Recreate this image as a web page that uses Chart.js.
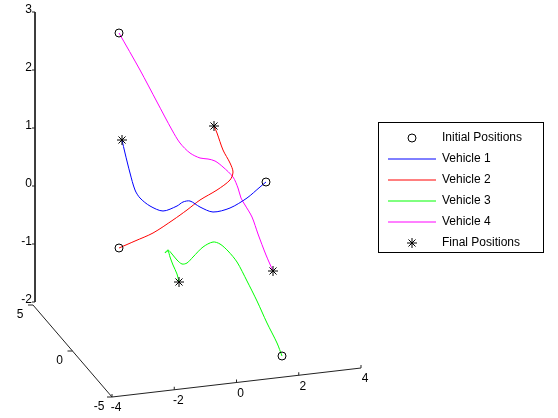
<!DOCTYPE html>
<html>
<head>
<meta charset="utf-8">
<script src="https://cdn.jsdelivr.net/npm/chart.js@4"></script>
<style>
  body { margin: 0; background: #fff; }
  #wrap { width: 558px; height: 418px; position: relative; }
</style>
</head>
<body>
<div id="wrap"><canvas id="trajChart"></canvas></div>
<script>
// Trajectoires projetées (vue 3D aplatie, unités de la vue)
const vehicle1X = [266, 260, 247, 230, 213, 200, 190, 183, 177, 163, 150, 140, 135, 130, 125, 122];
const vehicle1Y = [182, 187, 198, 208, 212, 207, 201, 202, 206, 211, 206, 198, 190, 173, 153, 140];
const vehicle2X = [119, 135, 153, 173, 187, 200, 217, 230, 233, 230, 223, 217, 214];
const vehicle2Y = [248, 241, 233, 220, 210, 200, 190, 180, 172, 163, 150, 133, 126];
const vehicle3X = [282, 277, 267, 257, 247, 237, 228, 220, 213, 203, 193, 187, 182, 177, 172, 168, 165, 168, 170, 173, 177, 179];
const vehicle3Y = [356, 343, 323, 301, 281, 262, 251, 244, 242, 247, 257, 263, 264, 260, 254, 250, 253, 251, 257, 265, 274, 282];
const vehicle4X = [119, 140, 157, 172, 180, 190, 200, 208, 215, 223, 233, 238, 241, 245, 252, 258, 266, 273];
const vehicle4Y = [33, 70, 102, 130, 143, 153, 158, 159, 161, 167, 177, 188, 198, 205, 217, 234, 255, 271];

const initialX = [266, 119, 282, 119];
const initialY = [182, 248, 356, 33];
const finalX = [122, 214, 179, 273];
const finalY = [140, 126, 282, 271];

const seriesNames = ['Vehicle 1', 'Vehicle 2', 'Vehicle 3', 'Vehicle 4'];
const seriesColors = ['#0000ff', '#ff0000', '#00ff00', '#ff00ff'];

// Axes 3D : valeurs des graduations
const zTicks = [3, 2, 1, 0, -1, -2];
const yTicks = [5, 0, -5];
const xTicks = [-4, -2, 0, 2, 4];

// Projection des axes dans la vue
const zAxisX = 35, zOrigin = 186, zStep = 58;
const yAxisStart = { x: 33, y: 305 }, yAxisEnd = { x: 112, y: 397 };
const xAxisStart = { x: 112, y: 397 }, xAxisEnd = { x: 361, y: 368 };

function zPos(v) { return { x: zAxisX, y: zOrigin - zStep * v }; }
function yPos(v) {
  const t = (5 - v) / 10;
  return { x: yAxisStart.x + t * (yAxisEnd.x - yAxisStart.x), y: yAxisStart.y + t * (yAxisEnd.y - yAxisStart.y) };
}
function xPos(v) {
  const t = (v + 4) / 8;
  return { x: xAxisStart.x + t * (xAxisEnd.x - xAxisStart.x), y: xAxisStart.y + t * (xAxisEnd.y - xAxisStart.y) };
}

const toPoints = (xs, ys) => xs.map((x, i) => ({ x: x, y: ys[i] }));
const vehX = [vehicle1X, vehicle2X, vehicle3X, vehicle4X];
const vehY = [vehicle1Y, vehicle2Y, vehicle3Y, vehicle4Y];

const datasets = [];

// lignes des axes
const axisLine = (pts) => ({
  data: pts, showLine: true, borderColor: '#222', borderWidth: 1,
  pointRadius: 0, tension: 0, order: 20
});
datasets.push(axisLine([zPos(3), zPos(-2)]));
datasets.push(axisLine([yPos(5), yPos(-5)]));
datasets.push(axisLine([xPos(-4), xPos(4)]));

seriesNames.forEach((name, i) => {
  datasets.push({
    label: name,
    data: toPoints(vehX[i], vehY[i]),
    showLine: true,
    borderColor: seriesColors[i],
    borderWidth: 1,
    pointRadius: 0,
    tension: 0.3,
    order: 10
  });
});

datasets.push({
  label: 'Initial Positions',
  data: toPoints(initialX, initialY),
  showLine: false,
  pointStyle: 'circle',
  pointRadius: 4,
  pointBorderColor: '#000',
  pointBackgroundColor: 'rgba(0,0,0,0)',
  pointBorderWidth: 1,
  order: 1
});
datasets.push({
  label: 'Final Positions',
  data: toPoints(finalX, finalY),
  showLine: false,
  pointStyle: 'star',
  pointRadius: 5,
  pointBorderColor: '#000',
  pointBackgroundColor: '#000',
  pointBorderWidth: 1,
  order: 1
});

// graduations, étiquettes et légende façon MATLAB
const axes3d = {
  id: 'axes3d',
  afterDatasetsDraw(chart) {
    const ctx = chart.ctx;
    const sx = chart.scales.x, sy = chart.scales.y;
    const px = (p) => ({ x: sx.getPixelForValue(p.x), y: sy.getPixelForValue(p.y) });
    ctx.save();
    ctx.strokeStyle = '#222';
    ctx.lineWidth = 1;
    ctx.fillStyle = '#000';
    ctx.font = '12px "Liberation Sans", Arial, sans-serif';

    ctx.textAlign = 'right';
    ctx.textBaseline = 'middle';
    zTicks.forEach(v => {
      const p = px(zPos(v));
      ctx.beginPath(); ctx.moveTo(p.x, p.y); ctx.lineTo(p.x - 3, p.y); ctx.stroke();
      ctx.fillText(String(v), p.x - 3, p.y - 2);
    });

    ctx.textAlign = 'center';
    yTicks.forEach(v => {
      const p = px(yPos(v));
      ctx.beginPath(); ctx.moveTo(p.x, p.y); ctx.lineTo(p.x - 5, p.y); ctx.stroke();
      ctx.fillText(String(v), p.x - 13, p.y + 10);
    });
    xTicks.forEach(v => {
      const p = px(xPos(v));
      ctx.beginPath(); ctx.moveTo(p.x, p.y); ctx.lineTo(p.x, p.y - 3); ctx.stroke();
      ctx.fillText(String(v), p.x + 4, p.y + 11);
    });

    // légende
    const box = { left: 378, top: 122, right: 543, bottom: 252 };
    ctx.fillStyle = '#fff';
    ctx.fillRect(box.left, box.top, box.right - box.left, box.bottom - box.top);
    ctx.strokeStyle = '#000';
    ctx.strokeRect(box.left + 0.5, box.top + 0.5, box.right - box.left, box.bottom - box.top);

    const rows = ['Initial Positions'].concat(seriesNames, ['Final Positions']);
    ctx.textAlign = 'left';
    ctx.fillStyle = '#000';
    rows.forEach((label, i) => {
      const y = 138 + i * 21;
      if (i === 0) {
        ctx.beginPath(); ctx.arc(412, y, 4, 0, Math.PI * 2); ctx.strokeStyle = '#000'; ctx.stroke();
      } else if (i === rows.length - 1) {
        ctx.strokeStyle = '#000';
        ctx.beginPath();
        for (let k = 0; k < 4; k++) {
          const a = k * Math.PI / 4;
          ctx.moveTo(412 - 5 * Math.cos(a), y - 5 * Math.sin(a));
          ctx.lineTo(412 + 5 * Math.cos(a), y + 5 * Math.sin(a));
        }
        ctx.stroke();
      } else {
        ctx.strokeStyle = seriesColors[i - 1];
        ctx.beginPath(); ctx.moveTo(388, y); ctx.lineTo(436, y); ctx.stroke();
      }
      ctx.fillText(label, 442, y);
    });
    ctx.restore();
  }
};

const trajChart = new Chart(document.getElementById('trajChart'), {
  type: 'scatter',
  data: { datasets: datasets },
  options: {
    responsive: true,
    maintainAspectRatio: false,
    animation: false,
    layout: { padding: 0, autoPadding: false },
    scales: {
      x: { type: 'linear', min: 0, max: 558, display: false },
      y: { type: 'linear', min: 0, max: 418, reverse: true, display: false }
    },
    plugins: {
      legend: { display: false },
      tooltip: { enabled: false }
    }
  },
  plugins: [axes3d]
});
</script>
</body>
</html>
